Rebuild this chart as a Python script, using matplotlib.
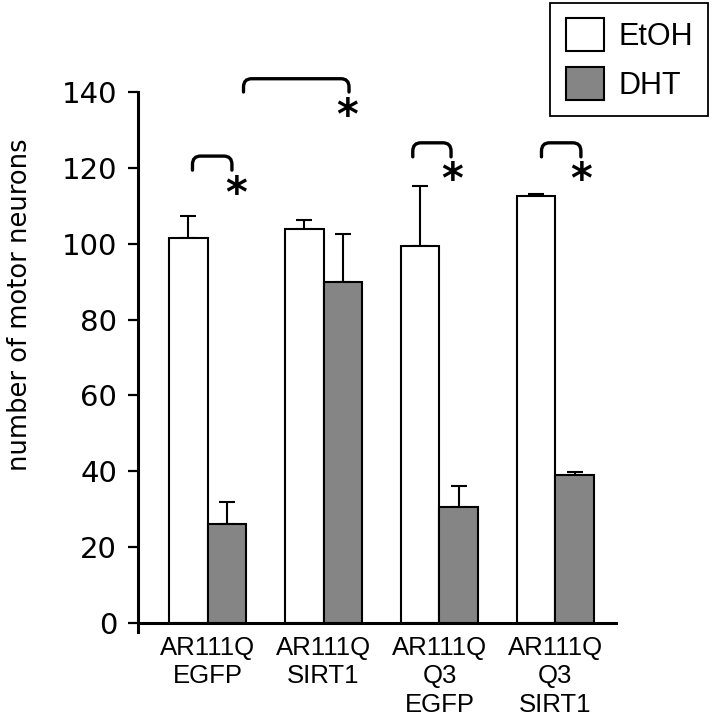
import numpy as np
import matplotlib
matplotlib.use("Agg")
import matplotlib.pyplot as plt
from matplotlib.path import Path
from matplotlib.patches import PathPatch, Patch

# datos
grupos = ["AR111Q\nEGFP", "AR111Q\nSIRT1", "AR111Q\nQ3\nEGFP", "AR111Q\nQ3\nSIRT1"]
etoh = [101.5, 104.0, 99.5, 112.5]
etoh_err = [5.7, 2.3, 15.7, 0.6]
dht = [26.0, 90.0, 30.6, 39.0]
dht_err = [6.0, 12.6, 5.4, 0.8]

# corchetes de significancia: (x izq, x der, y patas, y arriba, x asterisco, y asterisco)
corchetes = [
    (-0.13, 0.21, 119.4, 123.1, 0.245, 112.8),
    (0.31, 1.22, 140.0, 143.5, 1.20, 133.4),
    (1.77, 2.10, 122.9, 126.6, 2.105, 116.4),
    (2.88, 3.22, 122.9, 126.6, 3.225, 116.4),
]

fig = plt.figure(figsize=(7.12, 7.2), dpi=100)
ax = fig.add_axes([138 / 712, 1 - 632 / 720, 480 / 712, 540 / 720])

x = np.arange(len(grupos))
ancho = 0.335
gris = "#858585"

ax.bar(x - ancho / 2, etoh, ancho, color="white", edgecolor="black", linewidth=1.5, zorder=3)
ax.bar(x + ancho / 2, dht, ancho, color=gris, edgecolor="black", linewidth=1.5, zorder=3)
ax.errorbar(x - ancho / 2, etoh, yerr=[np.zeros(4), etoh_err], fmt="none", ecolor="black",
            elinewidth=1.5, capsize=5.5, capthick=1.5, zorder=2)
ax.errorbar(x + ancho / 2, dht, yerr=[np.zeros(4), dht_err], fmt="none", ecolor="black",
            elinewidth=1.5, capsize=5.5, capthick=1.5, zorder=2)

# dibujar corchetes con esquinas redondeadas
rx = 0.07
ry = 2.2
for x0, x1, yb, yt, xa, ya in corchetes:
    verts = [(x0, yb), (x0, yt - ry), (x0, yt), (x0 + rx, yt),
             (x1 - rx, yt), (x1, yt), (x1, yt - ry), (x1, yb)]
    codes = [Path.MOVETO, Path.LINETO, Path.CURVE3, Path.CURVE3,
             Path.LINETO, Path.CURVE3, Path.CURVE3, Path.LINETO]
    ax.add_patch(PathPatch(Path(verts, codes), facecolor="none", edgecolor="black",
                           linewidth=2.4, clip_on=False, capstyle="round"))
    ax.text(xa, ya, "*", ha="center", va="center", fontsize=30, fontweight="bold",
            family="DejaVu Sans")

ax.axhline(0, color="black", linewidth=2.2, zorder=4)
ax.set_xlim(-0.6, 3.54)
ax.set_ylim(-2.4, 140)
ax.set_yticks(range(0, 141, 20))
ax.spines["left"].set_bounds(-2.4, 140)
ax.spines["left"].set_linewidth(2.2)
for s in ["top", "right", "bottom"]:
    ax.spines[s].set_visible(False)
ax.tick_params(axis="y", length=7, width=1.6, labelsize=21, pad=8)
ax.set_xticks(x)
ax.set_xticklabels(grupos, fontsize=18.5, family="Liberation Sans", linespacing=1.22, va="top")
ax.tick_params(axis="x", length=0, pad=3)

fig.text(20 / 712, 1 - 305 / 720, "number of motor neurons", rotation=90,
         ha="center", va="center", fontsize=18.5)

handles = [Patch(facecolor="white", edgecolor="black", linewidth=1.5, label="EtOH"),
           Patch(facecolor=gris, edgecolor="black", linewidth=1.5, label="DHT")]
leg = fig.legend(handles=handles, loc="upper right", bbox_to_anchor=(708 / 712, 1 - 3 / 720),
                 prop={"family": "Liberation Sans", "size": 22}, frameon=True, fancybox=False,
                 edgecolor="black", framealpha=1, handlelength=1.27, handleheight=1.27,
                 labelspacing=0.5, handletextpad=0.45, borderpad=0.5, borderaxespad=0)
leg.get_frame().set_linewidth(1.3)

fig.savefig("out.png", dpi=100)
